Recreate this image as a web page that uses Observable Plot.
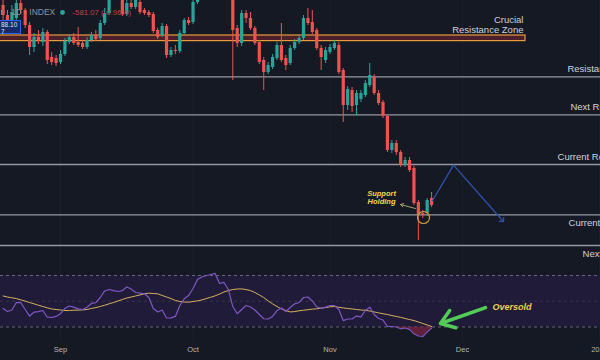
<!DOCTYPE html>
<html><head><meta charset="utf-8">
<script src="https://cdn.jsdelivr.net/npm/d3@7"></script>
<script src="https://cdn.jsdelivr.net/npm/@observablehq/plot@0.6"></script>
<style>
html,body{margin:0;padding:0;background:#151924;}
#chart{position:relative;width:600px;height:360px;overflow:hidden;background:#151924;}
#chart svg{display:block;}
#badge{position:absolute;left:0;top:20px;width:21px;height:14px;background:#172a63;border:1px solid #2962ff;border-left:none;color:#dfe6ff;font:6.5px "Liberation Sans",Arial,sans-serif;line-height:7px;padding-left:1px;box-sizing:border-box;}
</style></head><body>
<div id="chart"><div id="badge">88.10<br>7</div></div>
<script>
// ---------- DATA ----------
const firstDay = "2024-08-19";   // daily candles Aug 19 .. Nov 24
const lastDayExclusive = "2024-11-25";
const open = [2975,2925,2890,2910,2985,2950,2875,2765,2815,2790,
  2840,2715,2710,2690,2730,2790,2815,2790,2785,2765,
  2800,2825,2810,2885,2935,3025,3075,3025,2930,2985,
  2965,2990,2950,2940,2930,2850,2825,2870,2725,2750,
  2745,2835,2900,2890,2990,3050,3100,3060,3125,3090,
  3140,3100,3025,2860,2785,2935,2910,2860,2790,2700,
  2640,2665,2710,2775,2710,2685,2760,2790,2810,2910,
  2890,2850,2760,2700,2740,2760,2775,2650,2475,2550,
  2475,2505,2525,2575,2615,2535,2490,2420,2250,2285,
  2240,2175,2200,2160,1990,1935,1935,2010];
const high = [3000,2950,2975,3010,3015,2960,2890,2835,2850,2860,
  2850,2740,2725,2750,2810,2830,2835,2865,2800,2815,
  2840,2850,2900,2960,3050,3100,3100,3040,3000,3010,
  3020,3015,2960,2950,2940,2860,2885,2880,2765,2775,
  2850,2910,2915,3010,3075,3125,3125,3150,3150,3165,
  3160,3125,3040,2875,2950,2950,2940,2870,2800,2715,
  2690,2730,2790,2885,2725,2775,2805,2825,2925,2960,
  2950,2860,2775,2765,2780,2800,2790,2660,2570,2565,
  2550,2550,2600,2685,2630,2550,2500,2430,2300,2300,
  2250,2215,2215,2170,2000,1950,2010,2040];
const low = [2900,2860,2875,2900,2930,2860,2725,2740,2780,2770,
  2680,2675,2670,2680,2720,2780,2775,2765,2755,2755,
  2790,2795,2800,2875,2925,3015,3010,2920,2920,2955,
  2955,2930,2925,2915,2835,2805,2815,2710,2715,2730,
  2735,2825,2875,2880,2980,3025,3040,3040,3060,3070,
  3075,3015,2600,2765,2770,2885,2850,2775,2680,2550,
  2630,2655,2700,2690,2650,2675,2750,2780,2800,2875,
  2830,2750,2650,2685,2730,2750,2630,2390,2450,2440,
  2425,2490,2515,2565,2525,2475,2410,2240,2235,2225,
  2165,2165,2140,1975,1800,1910,1920,1965];
const close = [2925,2890,2940,2985,2950,2875,2765,2815,2800,2840,
  2700,2690,2685,2730,2795,2815,2785,2775,2765,2800,
  2825,2805,2885,2935,3025,3075,3025,2930,2985,2965,
  3000,2940,2935,2925,2845,2815,2870,2725,2750,2745,
  2835,2900,2885,2990,3050,3100,3060,3125,3090,3140,
  3100,3025,2850,2785,2935,2910,2860,2785,2690,2640,
  2675,2715,2775,2700,2675,2760,2790,2810,2910,2885,
  2840,2760,2715,2750,2765,2785,2640,2475,2555,2470,
  2535,2535,2585,2625,2535,2485,2420,2250,2285,2240,
  2175,2200,2150,1985,1925,1925,2000,1975];
const rsi = [44.4,42.0,43.2,49.0,49.0,43.6,38.5,41.5,42.0,42.8,
  37.6,37.4,38.2,40.3,44.4,46.3,45.4,44.1,43.6,45.4,
  48.3,49.0,52.9,58.0,59.1,58.3,57.6,58.3,61.1,59.5,
  56.8,56.3,55.8,52.9,44.4,41.7,43.2,37.0,37.1,38.2,
  46.7,51.9,54.5,59.9,66.9,68.8,70.0,70.8,71.6,63.8,
  64.6,59.1,45.9,40.3,43.6,46.7,45.5,43.2,39.7,36.4,
  36.2,38.2,42.8,44.8,42.0,45.1,48.0,49.0,52.9,53.3,
  50.2,45.7,44.4,45.4,46.7,46.7,43.6,35.0,36.2,36.2,
  38.5,37.8,42.8,45.4,39.7,36.6,35.4,30.4,30.4,30.0,
  28.6,29.2,28.1,24.7,23.0,22.6,26.0,29.2];
const rsiMA = [54.1,53.3,52.7,52.1,51.1,50.1,49.0,48.0,46.9,45.9,
  44.9,44.0,43.6,43.2,42.8,42.8,43.0,43.1,43.3,43.6,
  44.4,45.1,45.9,46.9,48.0,49.0,50.2,51.4,52.5,53.3,
  54.1,54.9,55.8,56.3,56.0,55.8,54.5,53.3,52.1,50.6,
  49.8,49.4,49.3,49.8,50.3,51.0,52.1,53.1,54.2,55.6,
  57.2,58.3,59.1,59.5,59.6,59.1,58.3,56.8,54.9,52.9,
  50.3,48.0,45.9,44.0,42.8,41.7,42.0,42.6,43.0,43.4,
  43.9,44.1,44.7,45.1,45.7,45.9,45.3,44.8,44.4,44.0,
  43.6,43.2,43.0,42.4,41.7,41.0,40.3,39.7,38.9,38.2,
  37.5,36.6,35.8,35.0,33.9,32.7,31.6,30.4];

const levelValues = [2618, 2428, 2180, 1928, 1775];
const levelNames = ["Resistance","Next Resistance","Current Resistance","Current Support","Next Support"];
const levelLabelDates = ["2024-12-24T18:00Z","2024-12-25T10:00Z","2024-12-22T12:00Z","2024-12-25T00:00Z","2024-12-28T04:00Z"];
const levelLabelSide = ["above","above","above","below","below"];

const zoneRange = [2797, 2825];
const zoneDates = ["2024-08-01", "2024-12-15T06:00Z"];
const zoneTitle = "Crucial\nResistance Zone";
const zoneTitleDate = "2024-12-14T19:00Z";

const projDates = ["2024-11-24T05:00Z","2024-11-28T23:00Z","2024-12-10T01:00Z"];
const projValues = [2000, 2177, 1900];

const supportText = "Support\nHolding";
const supportTextPos = {date:"2024-11-12T16:00Z", value:2017};
const supportArrow = {d1:"2024-11-20T08:00Z", v1:1960, d2:"2024-11-16T23:00Z", v2:1980};
const supportCircle = {date:"2024-11-22T04:00Z", value:1915};

const rsiBands = [30, 70];
const rsiMid = 50;
const oversoldArrow = {d1:"2024-12-06T05:00Z", v1:45.1, d2:"2024-11-26T00:00Z", v2:32.7};
const oversoldText = {date:"2024-12-07T19:00Z", value:45.1, text:"Oversold"};

const tickDates = ["2024-09-01","2024-10-01","2024-11-01","2024-12-01","2025-01-01"];
const tickLabels = ["Sep","Oct","Nov","Dec","2025"];

const legendTitle = "r · 1D · INDEX";
const legendChange = "-581.07 (-0.96%)";

const xDomain = [new Date("2024-08-18T10:00Z"), new Date("2025-01-01T05:30Z")];
const priceDomain = [1660, 3000];
const rsiDomain = [17.96, 75.44];

// ---------- BUILD ----------
const UP = "#26a69a", DOWN = "#ef5350";
const dates = d3.utcDay.range(new Date(firstDay + "T00:00Z"), new Date(lastDayExclusive + "T00:00Z"));
const candles = dates.map((date, i) => ({date, open: open[i], high: high[i], low: low[i], close: close[i]}));
const rsiData = dates.map((date, i) => ({date, rsi: rsi[i], ma: rsiMA[i]}));
const levels = levelValues.map((v, i) => ({value: v, name: levelNames[i], date: new Date(levelLabelDates[i]), side: levelLabelSide[i]}));
const ticks = tickDates.map(d => new Date(d + "T00:00Z"));
const tickMap = new Map(ticks.map((t, i) => [+t, tickLabels[i]]));
const colorOf = d => d.close >= d.open ? UP : DOWN;
const font = "'Liberation Sans', Arial, sans-serif";

const main = Plot.plot({
  width: 600, height: 268, margin: 0,
  style: {background: "#151924", fontFamily: font, color: "#d1d4dc"},
  x: {type: "utc", domain: xDomain, axis: null},
  y: {domain: priceDomain, axis: null},
  marks: [
    Plot.ruleX(ticks, {stroke: "#1c202c", strokeWidth: 1}),
    Plot.rect([{}], {x1: () => new Date(zoneDates[0]), x2: () => new Date(zoneDates[1]), y1: () => zoneRange[0], y2: () => zoneRange[1], fill: "#4d1f2b", stroke: "#e89a3c", strokeWidth: 1.2, clip: true}),
    Plot.text([zoneTitle], {x: () => new Date(zoneTitleDate), y: () => zoneRange[1], text: d => d, textAnchor: "end", lineAnchor: "bottom", dy: -3, fontSize: 9.5, lineHeight: 1.05, fill: "#d1d4dc"}),
    Plot.ruleY(levels, {y: "value", stroke: "#9598a1", strokeWidth: 1.3}),
    Plot.text(levels.filter(d => d.side === "above"), {x: "date", y: "value", text: "name", textAnchor: "start", dy: -8, fontSize: 9.5, fill: "#d1d4dc"}),
    Plot.text(levels.filter(d => d.side === "below"), {x: "date", y: "value", text: "name", textAnchor: "start", dy: 8, fontSize: 9.5, fill: "#d1d4dc"}),
    Plot.ruleX(candles, {x: "date", y1: "low", y2: "high", stroke: colorOf, strokeWidth: 1, clip: true}),
    Plot.ruleX(candles, {x: "date", y1: "open", y2: "close", stroke: colorOf, strokeWidth: 3.2, clip: true}),
    Plot.line(projDates.map((d, i) => ({date: new Date(d), value: projValues[i]})), {x: "date", y: "value", stroke: "#2f4ea6", strokeWidth: 1.4, markerEnd: "arrow"}),
    Plot.arrow([supportArrow], {x1: d => new Date(d.d1), y1: "v1", x2: d => new Date(d.d2), y2: "v2", stroke: "#a9a46a", strokeWidth: 1, headLength: 5}),
    Plot.dot([supportCircle], {x: d => new Date(d.date), y: "value", r: 6, stroke: "#d39b3a", strokeWidth: 1.2, fill: "none"}),
    Plot.text([supportText], {x: () => new Date(supportTextPos.date), y: () => supportTextPos.value, text: d => d, fontSize: 7.5, lineHeight: 1.15, fontWeight: "bold", fontStyle: "italic", fill: "#f2d64b"}),
    Plot.text([legendTitle], {frameAnchor: "top-left", dx: 0, dy: 12, lineAnchor: "middle", text: d => d, fontSize: 8.5, fill: "#8f939e"}),
    Plot.dot([0], {frameAnchor: "top-left", dx: 62, dy: 12, r: 2.4, fill: UP}),
    Plot.text([legendChange], {frameAnchor: "top-left", dx: 72, dy: 12, lineAnchor: "middle", text: d => d, fontSize: 7.8, fill: "#b84450"})
  ]
});

const rsiPlot = Plot.plot({
  width: 600, height: 92, marginTop: 0, marginBottom: 18, marginLeft: 0, marginRight: 0,
  style: {background: "#151924", fontFamily: font, color: "#b2b5be"},
  x: {type: "utc", domain: xDomain, axis: null},
  y: {domain: rsiDomain, axis: null},
  marks: [
    Plot.ruleX(ticks, {stroke: "#1c202c", strokeWidth: 1}),
    Plot.rect([{}], {x1: () => xDomain[0], x2: () => xDomain[1], y1: () => rsiBands[0], y2: () => rsiBands[1], fill: "#201b38"}),
    Plot.ruleY(rsiBands, {stroke: "#787b86", strokeDasharray: "3,3", strokeOpacity: 0.8}),
    Plot.ruleY([rsiMid], {stroke: "#787b86", strokeDasharray: "3,3", strokeOpacity: 0.25}),
    Plot.areaY(rsiData, {x: "date", y1: d => Math.min(d.rsi, rsiBands[0]), y2: rsiBands[0], fill: "#7a2340", fillOpacity: 0.75}),
    Plot.line(rsiData, {x: "date", y: "ma", stroke: "#d4b25e", strokeWidth: 1}),
    Plot.line(rsiData, {x: "date", y: "rsi", stroke: "#7e57c2", strokeWidth: 1.2}),
    Plot.arrow([oversoldArrow], {x1: d => new Date(d.d1), y1: "v1", x2: d => new Date(d.d2), y2: "v2", stroke: "#52cc56", strokeWidth: 3.5, headLength: 9, headAngle: 70}),
    Plot.text([oversoldText], {x: d => new Date(d.date), y: "value", text: "text", textAnchor: "start", fontSize: 9, fontWeight: "bold", fontStyle: "italic", fill: "#f0cf4a"}),
    Plot.axisX(ticks, {tickSize: 0, tickPadding: 4, tickFormat: d => tickMap.get(+d), fontSize: 7.5, fill: "#b2b5be", label: null})
  ]
});

const chart = document.getElementById("chart");
chart.insertBefore(main, chart.firstChild);
chart.insertBefore(rsiPlot, main.nextSibling);
</script></body></html>
